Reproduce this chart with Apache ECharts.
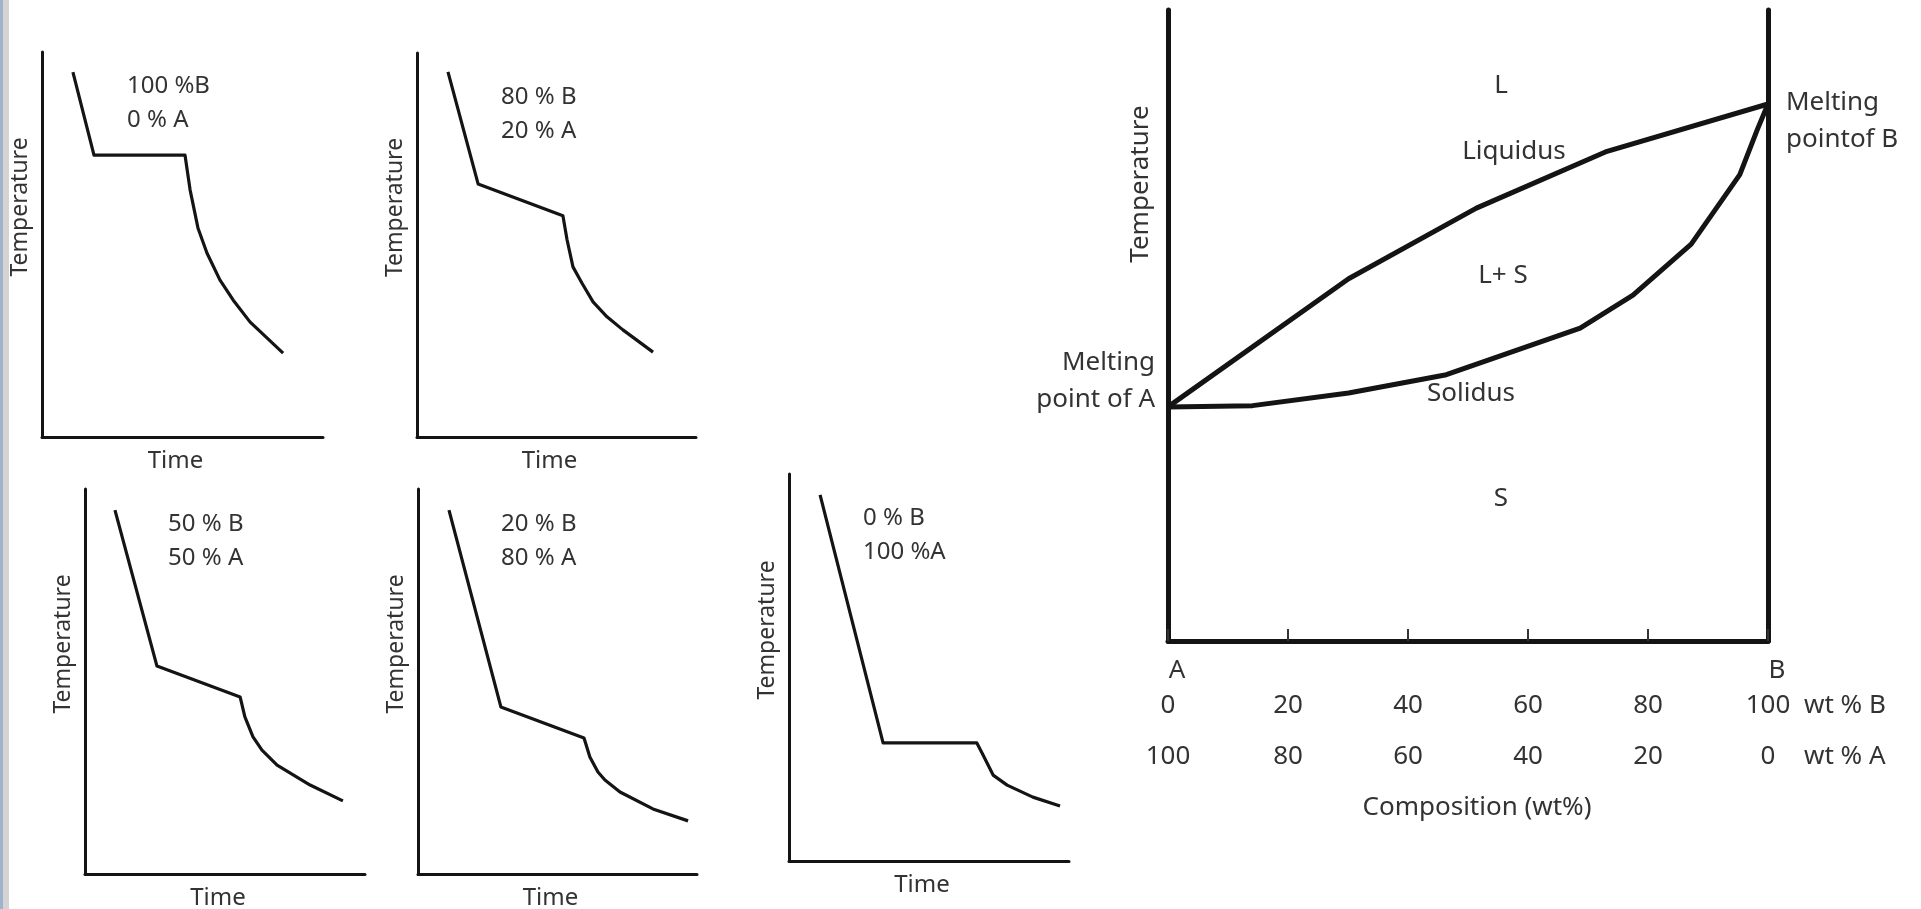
<!DOCTYPE html>
<html>
<head>
<meta charset="utf-8">
<script src="https://cdn.jsdelivr.net/npm/echarts@6/dist/echarts.min.js"></script>
<style>
  html, body { margin: 0; padding: 0; background: #fff; }
  #chart { width: 1921px; height: 909px; }
</style>
</head>
<body>
<div id="chart"></div>
<script>
// cooling curves, time vs temperature (both 0-100, arbitrary units)
const t100B = [11.0, 18.5, 50.9, 52.7, 55.5, 58.7, 63.3, 68.0, 74.0, 85.8];
const T100B = [94.8, 73.2, 73.2, 64.2, 54.3, 47.8, 40.8, 35.6, 29.9, 21.8];
const t80B = [11.1, 21.9, 52.3, 53.8, 55.9, 59.1, 63.1, 68.1, 73.8, 84.6];
const T80B = [95.1, 65.9, 57.6, 51.3, 44.3, 40.1, 35.2, 31.3, 27.9, 22.1];
const t50B = [10.7, 25.7, 55.4, 57.1, 60.0, 63.2, 68.6, 80.4, 92.1];
const T50B = [94.5, 54.0, 46.0, 40.8, 35.6, 32.2, 28.3, 23.1, 19.0];
const t20B = [11.1, 29.7, 59.5, 61.6, 64.5, 67.0, 72.4, 84.2, 96.8];
const T20B = [94.5, 43.4, 35.3, 30.4, 26.5, 24.4, 21.3, 16.9, 13.8];
const t0B = [11.1, 33.6, 67.1, 68.9, 72.9, 77.9, 87.1, 96.8];
const T0B = [94.6, 30.5, 30.5, 28.0, 22.2, 19.6, 16.5, 14.2];

const curveNotes = ["100 %B\n0 % A", "80 % B\n20 % A", "50 % B\n50 % A", "20 % B\n80 % A", "0 % B\n100 %A"];

// phase diagram: wt % B vs temperature
const liqComp = [0, 30.1, 51.4, 72.9, 100];
const liqTemp = [37.1, 57.4, 68.6, 77.5, 85.1];
const solComp = [0, 14.1, 30.1, 46.4, 68.7, 77.5, 87.2, 95.3, 98.2, 100];
const solTemp = [37.1, 37.3, 39.3, 42.2, 49.6, 54.8, 62.9, 73.9, 81.0, 85.1];

const ink = "#141414";
const textCol = "#333";
const font = "Noto Sans";

const zip = (xs, ys) => xs.map((x, i) => [x, ys[i]]);

const curves = [
  { t: t100B, T: T100B, grid: { left: 42, top: 52, width: 281, height: 385 }, note: [127, 103] },
  { t: t80B, T: T80B, grid: { left: 417, top: 53, width: 279, height: 384 }, note: [501, 114] },
  { t: t50B, T: T50B, grid: { left: 85, top: 489, width: 280, height: 385 }, note: [168, 541] },
  { t: t20B, T: T20B, grid: { left: 418, top: 489, width: 279, height: 385 }, note: [501, 541] },
  { t: t0B, T: T0B, grid: { left: 789, top: 474, width: 280, height: 387 }, note: [863, 535] }
];

const grids = [], xAxes = [], yAxes = [], series = [], graphics = [];
const hidden = { show: false };

curves.forEach((c, i) => {
  grids.push(Object.assign({ outerBoundsMode: "none" }, c.grid));
  xAxes.push({
    gridIndex: i, type: "value", min: 0, max: 100,
    name: "Time", nameLocation: "middle", nameGap: 12,
    nameTextStyle: { color: textCol, fontSize: 24, fontFamily: font, padding: [0, 14, 0, 0] },
    axisLine: { lineStyle: { color: ink, width: 3 } },
    axisTick: hidden, axisLabel: hidden, splitLine: hidden
  });
  yAxes.push({
    gridIndex: i, type: "value", min: 0, max: 100,
    name: "Temperature", nameLocation: "middle", nameGap: 10,
    nameTextStyle: { color: textCol, fontSize: 23, fontFamily: font, padding: [0, 0, 0, 75] },
    axisLine: { show: true, lineStyle: { color: ink, width: 3 } },
    axisTick: hidden, axisLabel: hidden, splitLine: hidden
  });
  series.push({
    type: "line", xAxisIndex: i, yAxisIndex: i,
    data: zip(c.t, c.T), symbol: "none", silent: true,
    lineStyle: { color: ink, width: 3.2, join: "round" }
  });
  graphics.push({
    type: "text", x: c.note[0], y: c.note[1],
    style: { text: curveNotes[i], fill: textCol, font: "24px " + font, align: "left", verticalAlign: "middle", lineHeight: 34 }
  });
});

// phase diagram grid
const pg = curves.length;
const phaseBox = { left: 1168, width: 600 };
grids.push(Object.assign({ top: 10, height: 631, outerBoundsMode: "none" }, phaseBox));
// two thin grids just to carry the wt % label rows
grids.push(Object.assign({ top: 705, height: 1, outerBoundsMode: "none" }, phaseBox));
grids.push(Object.assign({ top: 756, height: 1, outerBoundsMode: "none" }, phaseBox));

const labelFont = { color: textCol, fontSize: 26, fontFamily: font };

xAxes.push({
  gridIndex: pg, type: "value", min: 0, max: 100, interval: 20,
  name: "Composition (wt%)", nameLocation: "middle", nameGap: 154,
  nameTextStyle: Object.assign({ padding: [0, 0, 0, 18] }, labelFont),
  axisLine: { lineStyle: { color: ink, width: 5 } },
  axisTick: { inside: true, length: 12, lineStyle: { color: "#333", width: 2 } },
  axisLabel: Object.assign({
    margin: 17, showMinLabel: true, showMaxLabel: true, padding: [0, 0, 0, 18],
    formatter: v => (v === 0 ? "A" : v === 100 ? "B" : "")
  }, labelFont),
  splitLine: hidden
});
xAxes.push({
  gridIndex: pg + 1, type: "value", min: 0, max: 100, interval: 20,
  name: "wt % B", nameLocation: "end", nameGap: 36,
  nameTextStyle: Object.assign({ verticalAlign: "middle" }, labelFont),
  axisLine: hidden, axisTick: hidden,
  axisLabel: Object.assign({ margin: 0, verticalAlign: "middle", showMinLabel: true, showMaxLabel: true }, labelFont),
  splitLine: hidden
});
xAxes.push({
  gridIndex: pg + 2, type: "value", min: 0, max: 100, interval: 20,
  name: "wt % A", nameLocation: "end", nameGap: 36,
  nameTextStyle: Object.assign({ verticalAlign: "middle" }, labelFont),
  axisLine: hidden, axisTick: hidden,
  axisLabel: Object.assign({
    margin: 0, verticalAlign: "middle", showMinLabel: true, showMaxLabel: true,
    formatter: v => String(100 - v)
  }, labelFont),
  splitLine: hidden
});

yAxes.push({
  gridIndex: pg, type: "value", min: 0, max: 100, position: "left",
  name: "Temperature", nameLocation: "middle", nameGap: 14,
  nameTextStyle: Object.assign({ padding: [0, 0, 0, 283] }, labelFont),
  axisLine: { show: true, lineStyle: { color: ink, width: 5 } },
  axisTick: hidden, axisLabel: hidden, splitLine: hidden
});
yAxes.push({
  gridIndex: pg, type: "value", min: 0, max: 100, position: "right",
  axisLine: { show: true, lineStyle: { color: ink, width: 5 } },
  axisTick: hidden, axisLabel: hidden, splitLine: hidden
});
yAxes.push({ gridIndex: pg + 1, type: "value", show: false });
yAxes.push({ gridIndex: pg + 2, type: "value", show: false });

series.push({
  name: "Liquidus", type: "line", xAxisIndex: pg, yAxisIndex: pg,
  data: zip(liqComp, liqTemp), symbol: "none", silent: true,
  lineStyle: { color: ink, width: 5, join: "round" }
});
series.push({
  name: "Solidus", type: "line", xAxisIndex: pg, yAxisIndex: pg,
  data: zip(solComp, solTemp), symbol: "none", silent: true,
  lineStyle: { color: ink, width: 5, join: "round" }
});

// region labels on the phase diagram
const phaseText = (text, x, y, align) => ({
  type: "text", x: x, y: y,
  style: { text: text, fill: textCol, font: "26px " + font, align: align || "center", verticalAlign: "middle", lineHeight: 37 }
});
graphics.push(
  phaseText("L", 1501, 86),
  phaseText("Liquidus", 1514, 152),
  phaseText("L+ S", 1503, 276),
  phaseText("Solidus", 1471, 394),
  phaseText("S", 1501, 499),
  phaseText("Melting\npoint of A", 1155, 381, "right"),
  phaseText("Melting\npointof B", 1786, 121, "left")
);

// slide edge strip on the far left
graphics.push(
  { type: "rect", shape: { x: 0, y: 0, width: 3, height: 909 }, style: { fill: "#9fb3cb" } },
  { type: "rect", shape: { x: 3, y: 0, width: 6, height: 909 }, style: { fill: "#d4d4d4" } }
);

const chart = echarts.init(document.getElementById("chart"));
chart.setOption({
  animation: false,
  grid: grids,
  xAxis: xAxes,
  yAxis: yAxes,
  series: series,
  graphic: graphics
});
window.addEventListener("resize", () => chart.resize());
</script>
</body>
</html>
